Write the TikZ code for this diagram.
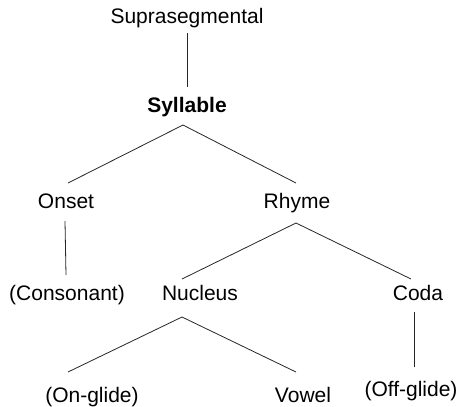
\documentclass[tikz,border=0pt]{standalone}
\usepackage{fontspec}
\setmainfont{Liberation Sans}
\begin{document}
\begin{tikzpicture}[x=1pt,y=-1pt,
  lbl/.style={anchor=base,inner sep=0pt,font=\fontsize{21}{24}\selectfont},
  edge/.style={line width=0.8pt,draw=black!85}]
\useasboundingbox (0,0) rectangle (466,407);
\node[lbl] (sup) at (187,23) {Suprasegmental};
\node[lbl,font=\fontsize{21}{24}\selectfont\bfseries] (syl) at (187,112) {Syllable};
\node[lbl] (ons) at (66,208) {Onset};
\node[lbl] (rhy) at (297,208) {Rhyme};
\node[lbl] (con) at (67,300) {(Consonant)};
\node[lbl] (nuc) at (200,300) {Nucleus};
\node[lbl] (cod) at (418,300) {Coda};
\node[lbl] (ong) at (92,402) {(On-glide)};
\node[lbl] (vow) at (303,402) {Vowel};
\node[lbl] (off) at (411,396) {(Off-glide)};
\draw[edge] ([shift={(0,10)}]sup.base) -- ([shift={(0,-25)}]syl.base);
\draw[edge] ([shift={(-4,13)}]syl.base) -- ([shift={(2,-25)}]ons.base);
\draw[edge] ([shift={(-4,13)}]syl.base) -- ([shift={(-1,-25)}]rhy.base);
\draw[edge] ([shift={(-1,13)}]ons.base) -- ([shift={(-1,-25)}]con.base);
\draw[edge] ([shift={(-1,15)}]rhy.base) -- ([shift={(-18,-21)}]nuc.base);
\draw[edge] ([shift={(-1,15)}]rhy.base) -- ([shift={(-7,-21)}]cod.base);
\draw[edge] ([shift={(-18,17)}]nuc.base) -- ([shift={(-24,-30)}]ong.base);
\draw[edge] ([shift={(-18,17)}]nuc.base) -- ([shift={(-7,-30)}]vow.base);
\draw[edge] ([shift={(-4,12)}]cod.base) -- ([shift={(3,-29)}]off.base);
\end{tikzpicture}
\end{document}
